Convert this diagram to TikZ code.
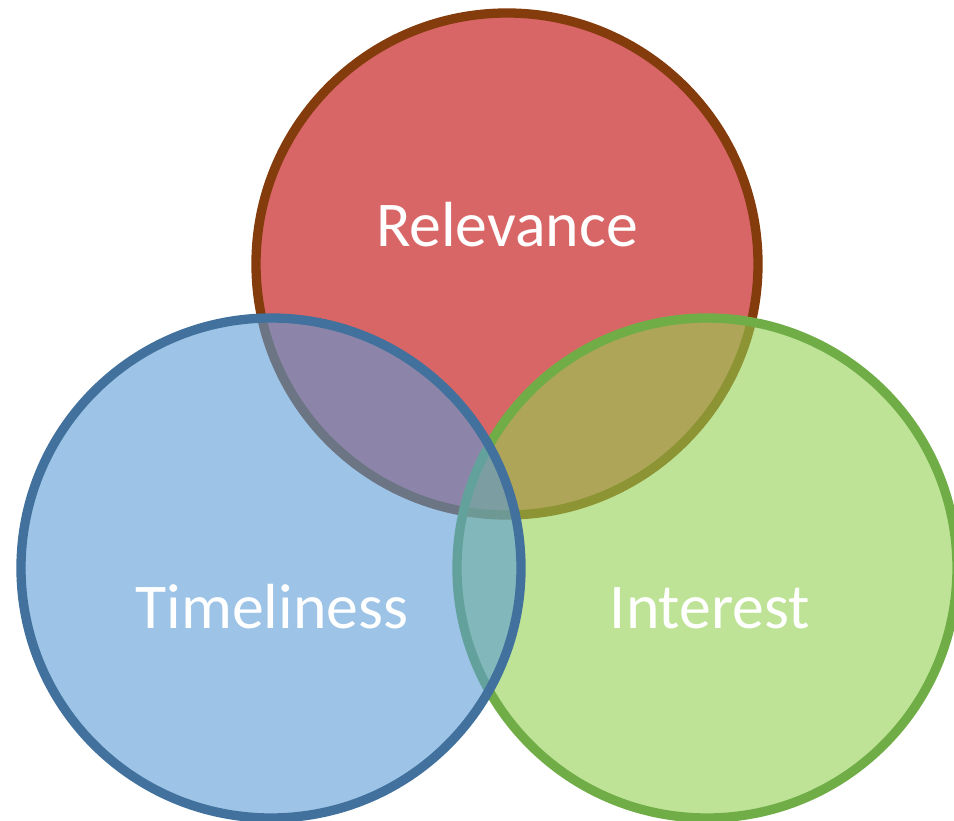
\documentclass[tikz,border=0pt]{standalone}
\usepackage{fontspec}
\setmainfont{Carlito}
\usepackage{tikz}

\definecolor{relfill}{HTML}{C00000}
\definecolor{relline}{HTML}{843C0C}
\definecolor{intfill}{HTML}{92D050}
\definecolor{intline}{HTML}{70AD47}
\definecolor{timfill}{HTML}{5B9BD5}
\definecolor{timline}{HTML}{41719C}

\tikzset{
  ring/.style={line width=5.3pt, fill opacity=0.6},
  tag/.style={text=white, anchor=base, font=\fontsize{36.3}{43}\selectfont}
}

\begin{document}
\begin{tikzpicture}[x=0.02cm, y=-0.02cm]
    \useasboundingbox (0,0) rectangle (954,821);
    \coordinate (rel) at (507,264);
    \coordinate (int) at (707,568);
    \coordinate (tim) at (271,568);

    % red one first, then green, blue on top
    \draw[ring, draw=relline, fill=relfill] (rel) circle [radius=251];
    \draw[ring, draw=intline, fill=intfill] (int) circle [radius=250];
    \draw[ring, draw=timline, fill=timfill] (tim) circle [radius=250];

    \node[tag] (relevance) at (507,246) {Relevance};
    \node[tag] (timeliness) at (272,628) {Timeliness};
    \node[tag] (interest) at (710,628) {Interest};
\end{tikzpicture}
\end{document}
